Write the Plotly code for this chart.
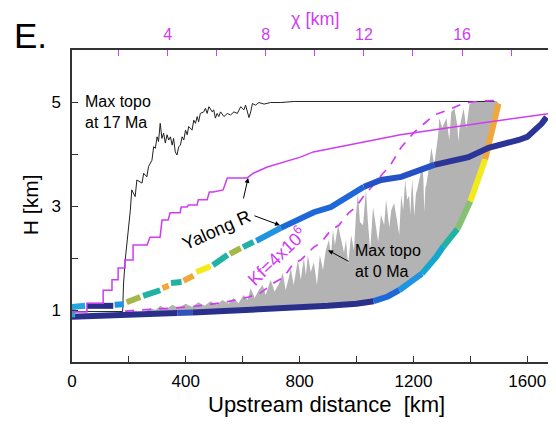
import plotly.graph_objects as go

# ---------------- data ----------------
# Max topo at 17 Ma (black thin line)
TOPO17_KM = [0, 178, 181, 184, 187, 205, 210, 222, 228, 246, 252, 263, 269, 281, 287,
             293, 299, 304, 310, 316, 322, 328, 334, 340, 346, 352, 357, 363, 369, 375,
             381, 387, 393, 399, 405, 410, 422, 428, 434, 440, 445, 451, 463, 469, 475,
             481, 493, 498, 504, 510, 516, 522, 534, 546, 557, 569, 581, 593, 604, 610,
             616, 622, 628, 634, 645, 657, 675, 698, 734, 781, 1485]
TOPO17_H = [0.97, 0.97, 1.5, 1.8, 1.96, 2.92, 3.31, 3.18, 3.50, 3.44, 3.63, 3.56, 3.76, 3.88, 4.14,
            4.11, 4.33, 4.24, 4.59, 4.30, 4.40, 4.21, 4.37, 4.27, 4.33, 4.17, 4.30, 4.04, 3.98, 4.14,
            4.17, 4.33, 4.27, 4.46, 4.37, 4.53, 4.46, 4.65, 4.59, 4.72, 4.62, 4.78, 4.81, 4.88, 4.78,
            4.91, 4.81, 4.85, 4.69, 4.78, 4.72, 4.81, 4.72, 4.78, 4.75, 4.81, 4.78, 4.91, 4.85, 4.94,
            4.81, 4.70, 4.81, 4.97, 4.94, 4.99, 4.96, 4.99, 4.99, 5.01, 5.01]

# Max topo at 0 Ma (grey area, upper edge)
TOPO0_KM = [195, 215, 235, 257, 275, 293, 310, 332, 353, 374, 399, 423, 444, 466, 487, 508, 529,
            550, 568, 585, 603, 617, 628, 642, 656, 670, 681, 698, 712, 727, 741, 751, 762, 769,
            779, 794, 804, 815, 822, 829, 839, 850, 861, 871, 882, 892, 903, 910, 917, 924, 935,
            945, 956, 963, 970, 981, 991, 998, 1005, 1012, 1023, 1030, 1033, 1040, 1048, 1058,
            1069, 1076, 1086, 1097, 1104, 1115, 1122, 1132, 1143, 1150, 1157, 1164, 1171, 1178,
            1185, 1189, 1193, 1196, 1203, 1209, 1213, 1224, 1231, 1235, 1238, 1242, 1245, 1252,
            1263, 1273, 1280, 1287, 1291, 1301, 1316, 1326, 1333, 1344, 1354, 1358, 1362, 1368,
            1376, 1386, 1393, 1397, 1411, 1492]
TOPO0_H = [0.93, 0.98, 0.96, 0.96, 1.04, 1.00, 1.08, 1.02, 1.10, 1.04, 1.12, 1.06, 1.15, 1.08,
           1.17, 1.10, 1.19, 1.12, 1.23, 1.13, 1.29, 1.19, 1.42, 1.23, 1.38, 1.48, 1.29, 1.58,
           1.35, 1.50, 1.71, 1.38, 1.62, 1.81, 1.48, 1.96, 1.58, 2.00, 1.67, 2.06, 1.73, 1.92,
           1.48, 2.06, 1.77, 2.15, 2.35, 2.04, 2.54, 2.25, 2.63, 2.35, 2.10, 2.35, 1.87, 2.44,
           2.15, 2.83, 3.25, 2.69, 2.63, 3.12, 3.31, 2.69, 2.15, 2.98, 2.54, 2.31, 2.83, 2.63,
           3.12, 2.58, 2.92, 3.06, 2.69, 2.44, 3.21, 2.92, 3.50, 3.12,
           3.20, 2.83, 3.30, 3.50, 2.81, 3.25, 3.31, 3.60, 3.79, 3.50, 2.88, 3.35, 3.40, 3.65,
           4.12, 3.79, 4.08, 4.37, 4.69, 4.50, 4.69, 4.27, 4.81, 4.88, 4.56, 4.23, 4.50, 4.69,
           4.88, 4.50, 4.85, 4.96, 5.00, 5.02]

# Lower thick profile (colour class per segment)
LOW_KM = [0, 200, 370, 425, 600, 804, 900, 1000, 1060, 1110, 1150, 1200, 1230, 1252, 1280,
          1305, 1330, 1355, 1378, 1400, 1425, 1452, 1467, 1484, 1499]
LOW_H = [0.87, 0.91, 0.94, 0.95, 0.99, 1.05, 1.08, 1.12, 1.17, 1.26, 1.38, 1.56, 1.70, 1.83, 2.02,
         2.22, 2.38, 2.56, 2.80, 3.09, 3.45, 3.90, 4.25, 4.62, 4.97]
LOW_CLS = ["navy", "navy", "blue2", "navy", "navy", "navy", "navy", "navy", "blue", "blue",
           "ltblue", "ltblue", "cyan", "cyan", "cyan", "teal", "teal", "green", "green",
           "yellow", "yellow", "orange", "orange", "orange", ""]

# Yalong R. thick profile (colour class per segment, "" = gap)
YAL_KM = [0, 4, 46, 52, 145, 150, 182, 192, 240, 250, 310, 318, 340, 348, 385, 392, 427, 437,
          487, 495, 547, 555, 593, 601, 638, 648, 734, 794, 850, 910, 970, 1026, 1086, 1157,
          1215, 1273, 1333, 1393, 1464, 1520, 1570, 1600, 1626, 1650, 1668]
YAL_H = [0.86, 1.06, 1.08, 1.08, 1.08, 1.10, 1.11, 1.15, 1.25, 1.27, 1.38, 1.42, 1.47, 1.52,
         1.54, 1.56, 1.66, 1.73, 1.84, 1.86, 2.06, 2.08, 2.19, 2.21, 2.31, 2.33, 2.58, 2.73,
         2.88, 2.98, 3.17, 3.37, 3.50, 3.56, 3.68, 3.79, 3.87, 3.94, 4.12, 4.19, 4.27, 4.33,
         4.46, 4.58, 4.71]
YAL_CLS = ["cyan2", "cyan2", "", "navy", "", "ltblue", "", "olive", "", "teal", "", "orange", "",
           "teal", "", "orange", "", "yellow", "", "teal", "", "olive", "", "teal", "", "ltblue",
           "blue", "blue", "blue", "blue", "blue", "dblue", "dblue", "dblue", "dblue",
           "navy2", "navy2", "navy2", "navy2", "navy2", "navy2", "navy2", "navy2", "navy2", ""]

# Yalong R. in chi space (magenta staircase, top axis)
CHI_X = [0.10, 0.71, 0.71, 1.37, 1.37, 1.73, 1.73, 1.98, 1.98, 2.26, 2.26, 2.59, 2.59, 3.16,
         3.28, 3.69, 3.77, 4.02, 4.10, 4.51, 4.55, 4.79, 4.85, 5.20, 5.25, 5.61, 5.70, 5.86,
         6.26, 6.43, 7.24, 7.49, 8.06, 9.41, 9.94, 11.32, 12.67, 13.49, 16.87, 19.73]
CHI_H = [0.96, 0.96, 1.13, 1.13, 1.38, 1.38, 1.58, 1.58, 1.81, 1.81, 1.96, 1.96, 2.25, 2.25,
         2.40, 2.40, 2.73, 2.73, 2.87, 2.87, 2.98, 2.98, 3.02, 3.02, 3.12, 3.12, 3.27, 3.27,
         3.31, 3.54, 3.54, 3.63, 3.75, 3.94, 4.04, 4.17, 4.29, 4.37, 4.60, 4.79]

# Kf = 4x10^6 model (magenta dashed)
KF_KM = [187, 310, 416, 540, 621, 663, 709, 744, 779, 804, 850, 875, 910, 938, 973, 998, 1033,
         1051, 1093, 1115, 1146, 1157, 1203, 1234, 1273, 1323, 1379, 1439, 1492]
KF_H = [0.98, 1.02, 1.06, 1.15, 1.25, 1.33, 1.52, 1.63, 1.90, 1.96, 2.21, 2.29, 2.54, 2.63, 2.87,
        2.98, 3.25, 3.35, 3.63, 3.75, 4.02, 4.13, 4.42, 4.56, 4.75, 4.85, 4.98, 5.02, 5.03]

X_TICKS = [0, 200, 400, 600, 800, 1000, 1200, 1400, 1600]
X_TICKTEXT = ["0", "", "400", "", "800", "", "1200", "", "1600"]
Y_TICKS = [1, 2, 3, 4, 5]
Y_TICKTEXT = ["1", "", "3", "", "5"]
CHI_TICKS = [2, 4, 6, 8, 10, 12, 14, 16, 18]
CHI_TICKTEXT = ["", "4", "", "8", "", "12", "", "16", ""]

# ---------------- style ----------------
PAL = {
    "navy": "#2b2f8c", "navy2": "#2b3497", "blue2": "#3552bb", "blue": "#1c68d8",
    "dblue": "#2452c4", "ltblue": "#1f94e0", "cyan": "#14a6cf", "cyan2": "#22a6e2",
    "teal": "#22b2a4", "green": "#86c073", "olive": "#a4b84a", "yellow": "#f3ea1c",
    "orange": "#f0a83c",
}
MAG = "#cf3cf2"
GREY = "#b3b3b3"
FONT = "Liberation Sans, Arial, Helvetica, sans-serif"
AXC = "#333333"

fig = go.Figure()

# grey area: upper edge then lower profile back
poly_x = list(TOPO0_KM)
poly_y = list(TOPO0_H)
for k, h in zip(reversed(LOW_KM), reversed(LOW_H)):
    if k >= TOPO0_KM[0]:
        poly_x.append(k)
        poly_y.append(h)
fig.add_trace(go.Scatter(x=poly_x, y=poly_y, mode="lines", fill="toself",
                         fillcolor=GREY, line=dict(width=0), hoverinfo="skip"))

# max topo at 17 Ma
fig.add_trace(go.Scatter(x=TOPO17_KM, y=TOPO17_H, mode="lines",
                         line=dict(color="#222222", width=1)))

# chi staircase (magenta)
fig.add_trace(go.Scatter(x=CHI_X, y=CHI_H, mode="lines", xaxis="x2",
                         line=dict(color=MAG, width=1.5)))

# Kf model (dashed)
fig.add_trace(go.Scatter(x=KF_KM, y=KF_H, mode="lines",
                         line=dict(color=MAG, width=1.7, dash="9px,8px")))


def add_runs(xs, ys, cls, width):
    n = len(xs)
    i = 0
    while i < n - 1:
        c = cls[i]
        j = i
        while j < n - 1 and cls[j] == c:
            j += 1
        if c:
            fig.add_trace(go.Scatter(x=xs[i:j + 1], y=ys[i:j + 1], mode="lines",
                                     line=dict(color=PAL[c], width=width)))
        i = j


add_runs(LOW_KM, LOW_H, LOW_CLS, 6)
add_runs(YAL_KM, YAL_H, YAL_CLS, 6)

ann = []


def txt(x, y, s, size=17, color="black", xanchor="center", yanchor="middle",
        angle=0, xref="x", yref="y", align="center"):
    ann.append(dict(x=x, y=y, xref=xref, yref=yref, text=s, showarrow=False,
                    font=dict(family=FONT, size=size, color=color), align=align,
                    xanchor=xanchor, yanchor=yanchor, textangle=angle))


def arrow(x, y, ax, ay):
    ann.append(dict(x=x, y=y, xref="x", yref="y", ax=ax, ay=ay, text="",
                    showarrow=True, arrowhead=2, arrowsize=1, arrowwidth=1,
                    arrowcolor="black", standoff=0))


txt(-0.124, 1.048, "E.", size=35, xanchor="left", xref="paper", yref="paper")
txt(0.504, 1.098, "χ [km]", size=18, color=MAG, xref="paper", yref="paper")
txt(-0.087, 0.503, "H [km]", size=21, angle=-90, xref="paper", yref="paper")
txt(0.527, -0.135, "Upstream distance\u00a0 [km]", size=22, xref="paper", yref="paper")

txt(40, 4.80, "Max topo<br>at 17 Ma", size=16, xanchor="left", align="left")
txt(986, 1.95, "Max topo<br>at 0 Ma", size=16, xanchor="left", align="left")
txt(508, 2.54, "Yalong R", size=18, angle=-24)
txt(722, 2.04, "Kf=4x10<sup>6</sup>", size=18, color=MAG, angle=-44)

arrow(619, 3.54, -5, 22)
arrow(731, 2.63, -27, -10)
arrow(900, 2.15, 22, 12)

# the page body adds an 8px margin, so the figure is drawn 8px smaller
fig.update_layout(
    width=548, height=417,
    margin=dict(l=64, r=2, t=42, b=63),
    paper_bgcolor="white", plot_bgcolor="white",
    showlegend=False,
    font=dict(family=FONT, color="black"),
    annotations=ann,
    xaxis=dict(range=[0, 1694], tickvals=X_TICKS, ticktext=X_TICKTEXT,
               ticks="inside", ticklen=6, tickwidth=1, tickcolor=AXC,
               showline=True, linecolor=AXC, linewidth=1.5, mirror=False,
               showgrid=False, zeroline=False, tickfont=dict(size=17),
               ticklabelstandoff=3),
    xaxis2=dict(range=[0.1, 19.75], overlaying="x", side="top",
                tickvals=CHI_TICKS, ticktext=CHI_TICKTEXT,
                ticks="inside", ticklen=6, tickwidth=1, tickcolor=MAG,
                showline=True, linecolor=AXC, linewidth=1.5,
                showgrid=False, zeroline=False,
                tickfont=dict(size=16, color=MAG), ticklabelstandoff=2),
    yaxis=dict(range=[0, 6], tickvals=Y_TICKS, ticktext=Y_TICKTEXT,
               ticks="inside", ticklen=6, tickwidth=1, tickcolor=AXC,
               showline=True, linecolor=AXC, linewidth=1.5, mirror=False,
               showgrid=False, zeroline=False, tickfont=dict(size=17),
               ticklabelstandoff=6),
    shapes=[dict(type="line", xref="paper", yref="paper", x0=1, x1=1, y0=0, y1=1,
                 line=dict(color="#dddddd", width=1))],
)

fig.write_html("out.html")
